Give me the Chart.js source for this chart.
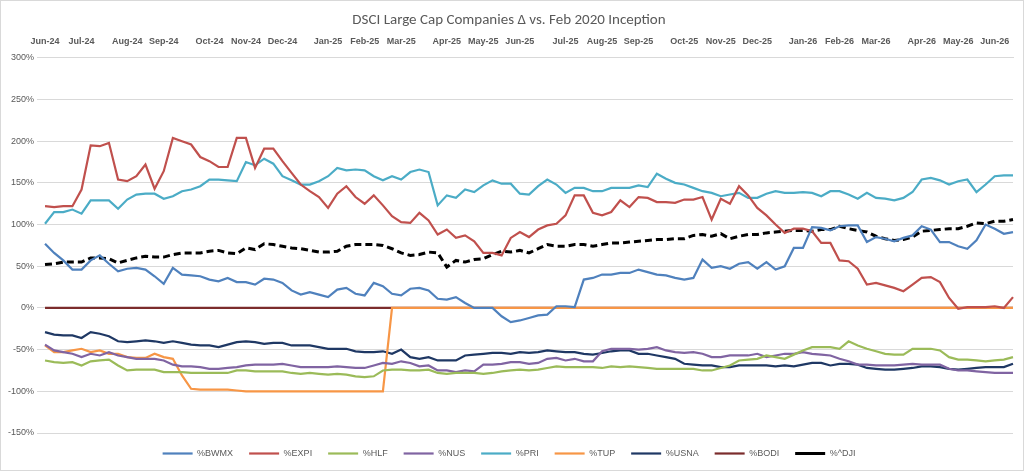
<!DOCTYPE html>
<html>
<head>
<meta charset="utf-8">
<script src="https://cdn.jsdelivr.net/npm/chart.js@4.4.1/dist/chart.umd.min.js"></script>
<style>
  html, body { margin: 0; padding: 0; background: #fff; }
  #wrap { width: 1022px; height: 469px; border: 1px solid #d9d9d9; }
</style>
</head>
<body>
<div id="wrap"><canvas id="grafico"></canvas></div>
<script>
// --- DADOS (semanais, a partir de 03/06/2024) ---
const startDate = new Date(2024, 5, 3);
const numWeeks = 107;

const bwmx = [77,66,57,46,46,57,63,53,44,47,48,46,38,29,48,40,39,38,34,32,36,31,31,28,35,34,30,21,16,19,16,13,22,24,17,15,30,26,17,15,23,24,21,11,10,13,6,0,0,0,-10,-17,
  -15,-12,-9,-8,2,2,1,34,36,40,40,42,42,46,43,40,39,36,34,36,58,48,50,47,53,55,47,55,46,50,72,72,97,96,93,98,99,99,79,85,83,80,84,87,98,94,79,79,74,71,81,100,95,89,91];
const expi = [122,121,122,122,142,195,194,198,154,152,158,172,143,164,204,200,196,181,176,169,169,204,204,168,191,191,176,162,148,140,133,120,137,146,133,125,135,123,110,103,102,114,105,88,94,84,87,80,66,66,63,84,
  91,85,94,99,101,111,135,135,114,111,115,129,121,133,132,127,127,126,130,130,133,106,131,125,146,135,120,111,100,90,95,95,92,78,78,57,56,47,28,30,27,24,20,28,36,37,31,12,-1,1,1,1,2,0,13];
const hlf = [-63,-65,-66,-65,-69,-64,-63,-62,-69,-75,-74,-74,-74,-77,-77,-77,-78,-78,-78,-78,-78,-75,-75,-76,-76,-76,-76,-78,-79,-78,-79,-80,-79,-80,-82,-83,-82,-75,-74,-74,-75,-75,-74,-78,-79,-78,-78,-78,-79,-78,-76,-75,
  -74,-75,-74,-72,-70,-71,-71,-71,-71,-72,-70,-71,-70,-71,-72,-73,-73,-73,-73,-73,-75,-75,-72,-69,-63,-62,-61,-57,-59,-61,-56,-51,-47,-47,-47,-49,-40,-45,-49,-52,-55,-56,-56,-49,-49,-49,-51,-59,-62,-62,-63,-64,-63,-62,-59];
const nus = [-44,-51,-53,-55,-59,-55,-57,-53,-57,-59,-61,-61,-61,-63,-68,-70,-70,-71,-73,-73,-72,-71,-69,-68,-68,-68,-67,-69,-71,-71,-71,-71,-70,-71,-72,-72,-69,-66,-67,-64,-66,-70,-69,-75,-75,-77,-75,-76,-68,-68,-67,-65,
  -65,-67,-66,-61,-60,-63,-61,-64,-64,-52,-49,-49,-49,-50,-49,-47,-51,-53,-54,-53,-55,-59,-59,-57,-57,-57,-55,-59,-57,-55,-55,-53,-55,-56,-57,-61,-64,-68,-68,-69,-69,-69,-68,-67,-68,-68,-68,-73,-75,-75,-76,-77,-78,-78,-78];
const pri = [101,115,115,118,113,129,129,129,119,130,136,137,137,131,134,140,142,146,154,154,153,152,175,171,179,173,158,153,148,148,152,158,168,165,166,165,158,153,158,154,163,166,163,123,135,132,142,139,147,153,149,149,
  137,136,146,154,148,138,144,144,140,140,144,144,144,147,145,161,155,150,148,144,140,138,134,136,138,132,132,137,140,138,138,139,138,134,140,140,136,131,138,132,131,129,132,139,154,156,153,148,152,154,139,148,158,159,159];
const tup = [-45,-53,-53,-51,-49,-53,-51,-55,-55,-59,-60,-60,-55,-59,-61,-81,-97,-98,-98,-98,-98,-99,-100,-100,-100,-100,-100,-100,-100,-100,-100,-100,-100,-100,-100,-100,-100,-100,
  0,0,0,0,0,0,0,0,0,0,0,0,0,0,0,0,0,0,0,0,0,0,0,0,0,0,0,0,0,0,0,0,0,0,0,0,0,0,0,0,0,0,0,0,0,0,0,0,0,0,0,0,0,0,0,0,0,0,0,0,0,0,0,0,0,0,0,0,0];
const usna = [-29,-32,-33,-33,-36,-29,-31,-34,-40,-41,-40,-39,-40,-42,-40,-42,-44,-45,-45,-47,-44,-41,-40,-41,-43,-42,-42,-45,-45,-45,-47,-49,-49,-49,-52,-53,-53,-52,-55,-50,-59,-61,-59,-63,-63,-63,-57,-56,-55,-54,-54,-55,
  -53,-54,-53,-51,-52,-53,-53,-55,-56,-54,-52,-51,-51,-55,-55,-57,-59,-61,-67,-68,-69,-69,-71,-71,-69,-69,-69,-69,-70,-69,-70,-68,-66,-66,-69,-67,-67,-68,-72,-73,-74,-74,-73,-72,-70,-70,-71,-73,-74,-73,-72,-71,-71,-71,-67];
const bodi = new Array(numWeeks).fill(0);
const dji = [52,53,55,55,55,60,60,59,54,57,60,62,61,61,64,66,66,66,68,69,66,65,72,70,77,76,74,72,71,69,67,67,68,74,76,76,76,75,71,66,63,64,67,66,49,57,55,58,59,64,68,67,
  69,66,71,76,74,74,76,76,74,76,78,78,79,80,81,82,82,83,83,87,88,86,89,83,86,88,88,90,91,92,93,93,92,94,94,98,95,93,91,86,83,81,82,85,92,93,94,95,95,98,102,101,104,104,106];

const mesesAbrev = ['Jan','Feb','Mar','Apr','May','Jun','Jul','Aug','Sep','Oct','Nov','Dec'];
const semanas = [];
for (let i = 0; i < numWeeks; i++) {
    const d = new Date(startDate.getTime() + i * 7 * 86400000);
    semanas.push(d);
}
const rotulos = semanas.map(d => mesesAbrev[d.getMonth()] + '-' + String(d.getFullYear()).slice(2));

// --- SERIES ---
const series = [
    { label: '%BWMX', data: bwmx, cor: '#4F81BD' },
    { label: '%EXPI', data: expi, cor: '#C0504D' },
    { label: '%HLF', data: hlf, cor: '#9BBB59' },
    { label: '%NUS', data: nus, cor: '#8064A2' },
    { label: '%PRI', data: pri, cor: '#4BACC6' },
    { label: '%TUP', data: tup, cor: '#F79646' },
    { label: '%USNA', data: usna, cor: '#1F3864' },
    { label: '%BODI', data: bodi, cor: '#7B2C2C' },
    { label: '%^DJI', data: dji, cor: '#000000', tracejado: true }
];

const datasets = series.map(s => ({
    label: s.label,
    data: s.data,
    borderColor: s.cor,
    backgroundColor: s.cor,
    borderWidth: s.tracejado ? 3 : 2.2,
    borderDash: s.tracejado ? [7, 4] : [],
    pointRadius: 0,
    tension: 0,
    pointStyle: 'line'
}));

new Chart(document.getElementById('grafico'), {
    type: 'line',
    data: { labels: rotulos, datasets: datasets },
    options: {
        responsive: true,
        maintainAspectRatio: false,
        animation: false,
        layout: { padding: { left: 4, right: 10, top: 4, bottom: 2 } },
        plugins: {
            title: {
                display: true,
                text: 'DSCI Large Cap Companies \u0394 vs. Feb 2020 Inception',
                color: '#595959',
                font: { family: 'Calibri, Carlito, "Liberation Sans", sans-serif', size: 15, weight: 'normal' },
                padding: { top: 6, bottom: 4 }
            },
            legend: {
                position: 'bottom',
                labels: {
                    color: '#595959',
                    usePointStyle: true,
                    pointStyleWidth: 30,
                    boxHeight: 6,
                    padding: 16,
                    font: { family: '"Liberation Sans", sans-serif', size: 9 }
                }
            },
            tooltip: { enabled: false }
        },
        scales: {
            x: {
                position: 'top',
                grid: { display: false },
                border: { color: '#d9d9d9' },
                ticks: {
                    autoSkip: false,
                    maxRotation: 0,
                    color: '#595959',
                    font: { family: '"Liberation Sans", sans-serif', size: 9, weight: 'bold' },
                    callback: function (v, i) {
                        if (i === 0) return rotulos[i];
                        return semanas[i].getMonth() !== semanas[i - 1].getMonth() ? rotulos[i] : '';
                    }
                }
            },
            y: {
                min: -150,
                max: 300,
                grid: { color: '#d9d9d9' },
                border: { display: false },
                ticks: {
                    stepSize: 50,
                    color: '#595959',
                    font: { family: '"Liberation Sans", sans-serif', size: 9 },
                    callback: v => v + '%'
                }
            }
        }
    }
});
</script>
</body>
</html>
